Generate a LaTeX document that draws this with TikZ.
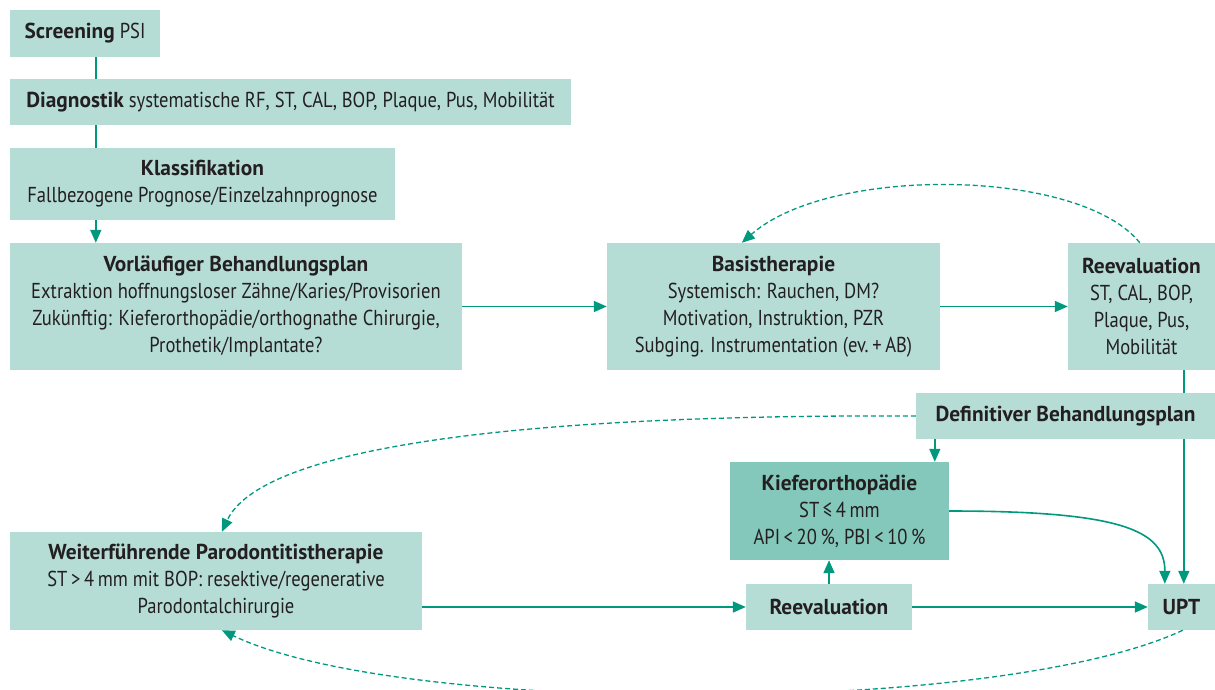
\documentclass[tikz,border=0pt]{standalone}
\usepackage{fontspec}
\setmainfont{PT Sans}[FakeStretch=0.86,BoldFeatures={FakeStretch=0.99}]
\usetikzlibrary{arrows.meta,backgrounds,calc}
\definecolor{boxfill}{HTML}{B5DDD6}
\definecolor{boxdark}{HTML}{84C8BB}
\definecolor{tealc}{HTML}{00997E}
\definecolor{txt}{HTML}{231F20}
\begin{document}
\begin{tikzpicture}[x=1pt,y=-1pt,
  box/.style={fill=boxfill, inner sep=0pt, align=center, text=txt, font=\fontsize{21.6}{27}\selectfont},
  conn/.style={draw=tealc, line width=1.6pt},
  arr/.style={conn, -{Triangle[length=13pt,width=11pt]}},
  darr/.style={arr, dash pattern=on 5pt off 3pt, line width=1.3pt}]
\useasboundingbox (0,0) rectangle (1215,689);

\node[box, minimum width=150pt, minimum height=47pt] (screen) at (85,33.5) {\textbf{Screening} PSI};
\node[box, minimum width=561pt, minimum height=46pt] (diag) at (290.5,102) {\textbf{Diagnostik} systematische RF, ST, CAL, BOP, Plaque, Pus, Mobilität};
\node[box, minimum width=385pt, minimum height=72pt] (klass) at (202.5,184) {\textbf{Klassifikation}\\Fallbezogene Prognose/Einzelzahnprognose};
\node[box, minimum width=452pt, minimum height=127pt] (vor) at (236,306.5) {\textbf{Vorläufiger Behandlungsplan}\\Extraktion hoffnungsloser Zähne/Karies/Provisorien\\Zukünftig: Kieferorthopädie/orthognathe Chirurgie,\\Prothetik/Implantate?};
\node[box, minimum width=333pt, minimum height=127pt] (basis) at (773.5,306.5) {\textbf{Basistherapie}\\Systemisch: Rauchen, DM?\\Motivation, Instruktion, PZR\\Subging. Instrumentation (ev.\,+\,AB)};
\node[box, minimum width=147pt, minimum height=127pt] (reevA) at (1141.5,306.5) {\textbf{Reevaluation}\\ST, CAL, BOP,\\Plaque, Pus,\\Mobilität};
\node[box, minimum width=299pt, minimum height=46pt] (def) at (1065.5,416) {\textbf{Definitiver Behandlungsplan}};
\node[box, fill=boxdark, minimum width=219pt, minimum height=98pt] (kiefer) at (839.5,511) {\textbf{Kieferorthopädie}\\ST\,≤\,4\,mm\\API\,<\,20\,\%, PBI\,<\,10\,\%};
\node[box, minimum width=412pt, minimum height=98pt] (weiter) at (216,581) {\textbf{Weiterführende Parodontitistherapie}\\ST\,>\,4\,mm mit BOP: resektive/regenerative\\Parodontalchirurgie};
\node[box, minimum width=166pt, minimum height=46pt] (reevB) at (829,607) {\textbf{Reevaluation}};
\node[box, minimum width=67pt, minimum height=46pt] (upt) at (1181.5,607) {\textbf{UPT}};

\begin{pgfonlayer}{background}
\draw[arr] ([xshift=116pt]reevA.south west) -- ([xshift=36pt]upt.north west);
\end{pgfonlayer}

\draw[conn] ([xshift=86pt]screen.south west) -- ([xshift=86pt]diag.north west);
\draw[conn] ([xshift=86pt]diag.south west) -- ([xshift=86pt]klass.north west);
\draw[arr] ([xshift=86pt]klass.south west) -- ([xshift=86pt]vor.north west);
\draw[arr] (vor.east) -- (basis.west);
\draw[arr] (basis.east) -- (reevA.west);
\draw[darr] ([xshift=72pt]reevA.north west) .. controls (1080,168) and (830,165) .. ([xshift=135pt]basis.north west);
\draw[arr] ([xshift=19pt]def.south west) -- ([xshift=19pt]def.south west |- kiefer.north);
\draw[darr] (def.west) .. controls (500,414) and (260,450) .. ([xshift=212pt]weiter.north west);
\draw[arr] (kiefer.east) .. controls (1120,511) and (1165,530) .. ([xshift=17pt]upt.north west);
\draw[arr] (weiter.east |- reevB.west) -- (reevB.west);
\draw[arr] (reevB.north) -- (reevB.north |- kiefer.south);
\draw[arr] (reevB.east) -- (upt.west);
\draw[darr] ([xshift=35pt]upt.south west) .. controls (1000,716) and (400,716) .. ([xshift=212pt]weiter.south west);
\end{tikzpicture}
\end{document}
